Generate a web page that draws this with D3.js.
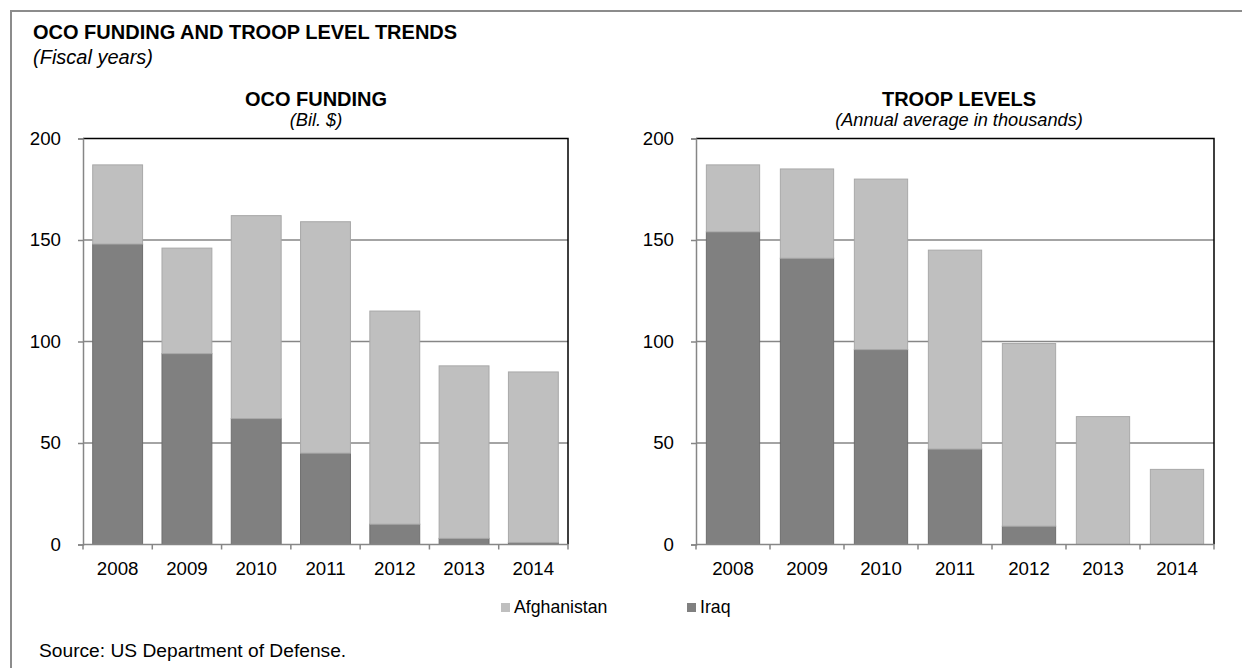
<!DOCTYPE html>
<html>
<head>
<meta charset="utf-8">
<script src="https://cdn.jsdelivr.net/npm/d3@7"></script>
<style>
  html, body { margin: 0; padding: 0; background: #fff; }
  svg { display: block; font-family: "Liberation Sans", Arial, sans-serif; }
</style>
</head>
<body>
<svg id="chart" width="1242" height="668"></svg>
<script>
// Fiscal years shown on both panels
const years = ["2008", "2009", "2010", "2011", "2012", "2013", "2014"];

// OCO funding, billions of dollars
const fundingIraq = [148, 94, 62, 45, 10, 3, 1];
const fundingTotal = [187, 146, 162, 159, 115, 88, 85];

// Troop levels, annual average in thousands
const troopsIraq = [154, 141, 96, 47, 9, 0, 0];
const troopsTotal = [187, 185, 180, 145, 99, 63, 37];

const yTicks = [0, 50, 100, 150, 200];
const seriesNames = ["Afghanistan", "Iraq"];
const colors = { Afghanistan: "#bfbfbf", Iraq: "#808080" };

const svg = d3.select("#chart");

// Outer frame (top and left edges visible)
svg.append("path")
  .attr("d", "M11,1300 V11 H1300")
  .attr("fill", "none")
  .attr("stroke", "#8c8c8c")
  .attr("stroke-width", 2);

svg.append("text")
  .attr("x", 33).attr("y", 39)
  .attr("font-size", 20).attr("font-weight", "bold")
  .text("OCO FUNDING AND TROOP LEVEL TRENDS");
svg.append("text")
  .attr("x", 33).attr("y", 64)
  .attr("font-size", 20).attr("font-style", "italic")
  .text("(Fiscal years)");

function panel(cfg) {
  const { x0, x1, y0, y1, iraq, total, title, subtitle, titleX } = cfg;
  const g = svg.append("g");

  const x = d3.scaleBand().domain(years).range([x0, x1]).paddingInner(0.28).paddingOuter(0.14);
  const y = d3.scaleLinear().domain([0, 200]).range([y1, y0]);

  // Horizontal gridlines
  g.selectAll("line.grid").data(yTicks.filter(t => t > 0 && t < 200)).join("line")
    .attr("x1", x0).attr("x2", x1)
    .attr("y1", d => y(d)).attr("y2", d => y(d))
    .attr("stroke", "#868686").attr("stroke-width", 1.5);

  // Stacked bars: Iraq at the bottom, Afghanistan on top
  const rows = years.map((yr, i) => ({ yr, iraq: iraq[i], afg: total[i] - iraq[i] }));
  const stack = d3.stack().keys(["iraq", "afg"])(rows);
  const keyName = { iraq: "Iraq", afg: "Afghanistan" };
  stack.forEach(layer => {
    g.selectAll(null).data(layer.filter(d => d[1] - d[0] > 0)).join("rect")
      .attr("x", d => x(d.data.yr))
      .attr("width", x.bandwidth())
      .attr("y", d => y(d[1]))
      .attr("height", d => y(d[0]) - y(d[1]))
      .attr("fill", colors[keyName[layer.key]])
      .attr("stroke", layer.key === "iraq" ? "#6e6e6e" : "#a8a8a8")
      .attr("stroke-width", 1);
  });

  // Top and right frame lines
  g.append("path")
    .attr("d", `M${x0},${y(200)} H${x1} V${y(0)}`)
    .attr("fill", "none").attr("stroke", "#000").attr("stroke-width", 1.5);

  // Y axis
  const yAxis = d3.axisLeft(y).tickValues(yTicks).tickSize(5).tickPadding(17);
  const ya = g.append("g").attr("transform", `translate(${x0},0)`).call(yAxis);
  ya.select(".domain").attr("stroke", "#868686").attr("stroke-width", 1.5);
  ya.selectAll(".tick line").attr("stroke", "#868686").attr("stroke-width", 1.5);
  ya.selectAll(".tick text").attr("font-size", 18.7).attr("fill", "#000")
    .attr("font-family", "Liberation Sans, Arial, sans-serif");

  // X axis with boundary ticks between categories
  const xa = g.append("g").attr("transform", `translate(0,${y(0)})`);
  xa.append("line").attr("x1", x0).attr("x2", x1).attr("y1", 0).attr("y2", 0)
    .attr("stroke", "#868686").attr("stroke-width", 1.5);
  const step = x.step();
  const bounds = d3.range(years.length + 1).map(i => x0 + i * step);
  xa.selectAll("line.b").data(bounds).join("line")
    .attr("x1", d => d).attr("x2", d => d).attr("y1", 0).attr("y2", 5)
    .attr("stroke", "#868686").attr("stroke-width", 1.5);
  xa.selectAll("text").data(years).join("text")
    .attr("x", d => x(d) + x.bandwidth() / 2)
    .attr("y", 30)
    .attr("text-anchor", "middle")
    .attr("font-size", 18.7)
    .text(d => d);

  g.append("text").attr("x", titleX).attr("y", 106)
    .attr("text-anchor", "middle").attr("font-size", 20).attr("font-weight", "bold")
    .text(title);
  g.append("text").attr("x", titleX).attr("y", 126)
    .attr("text-anchor", "middle").attr("font-size", 18.2).attr("font-style", "italic")
    .text(subtitle);
}

panel({ x0: 83, x1: 568, y0: 138.5, y1: 544.5, iraq: fundingIraq, total: fundingTotal,
  title: "OCO FUNDING", subtitle: "(Bil. $)", titleX: 316 });
panel({ x0: 696, x1: 1214, y0: 138.5, y1: 544.5, iraq: troopsIraq, total: troopsTotal,
  title: "TROOP LEVELS", subtitle: "(Annual average in thousands)", titleX: 959 });

// Legend
const legendX = [501, 687];
const lg = svg.append("g");
seriesNames.forEach((name, i) => {
  lg.append("rect").attr("x", legendX[i]).attr("y", 603).attr("width", 9).attr("height", 9)
    .attr("fill", colors[name]);
  lg.append("text").attr("x", legendX[i] + 13).attr("y", 613)
    .attr("font-size", 17.7).text(name);
});

svg.append("text").attr("x", 39).attr("y", 657)
  .attr("font-size", 19.2).text("Source: US Department of Defense.");
</script>
</body>
</html>
